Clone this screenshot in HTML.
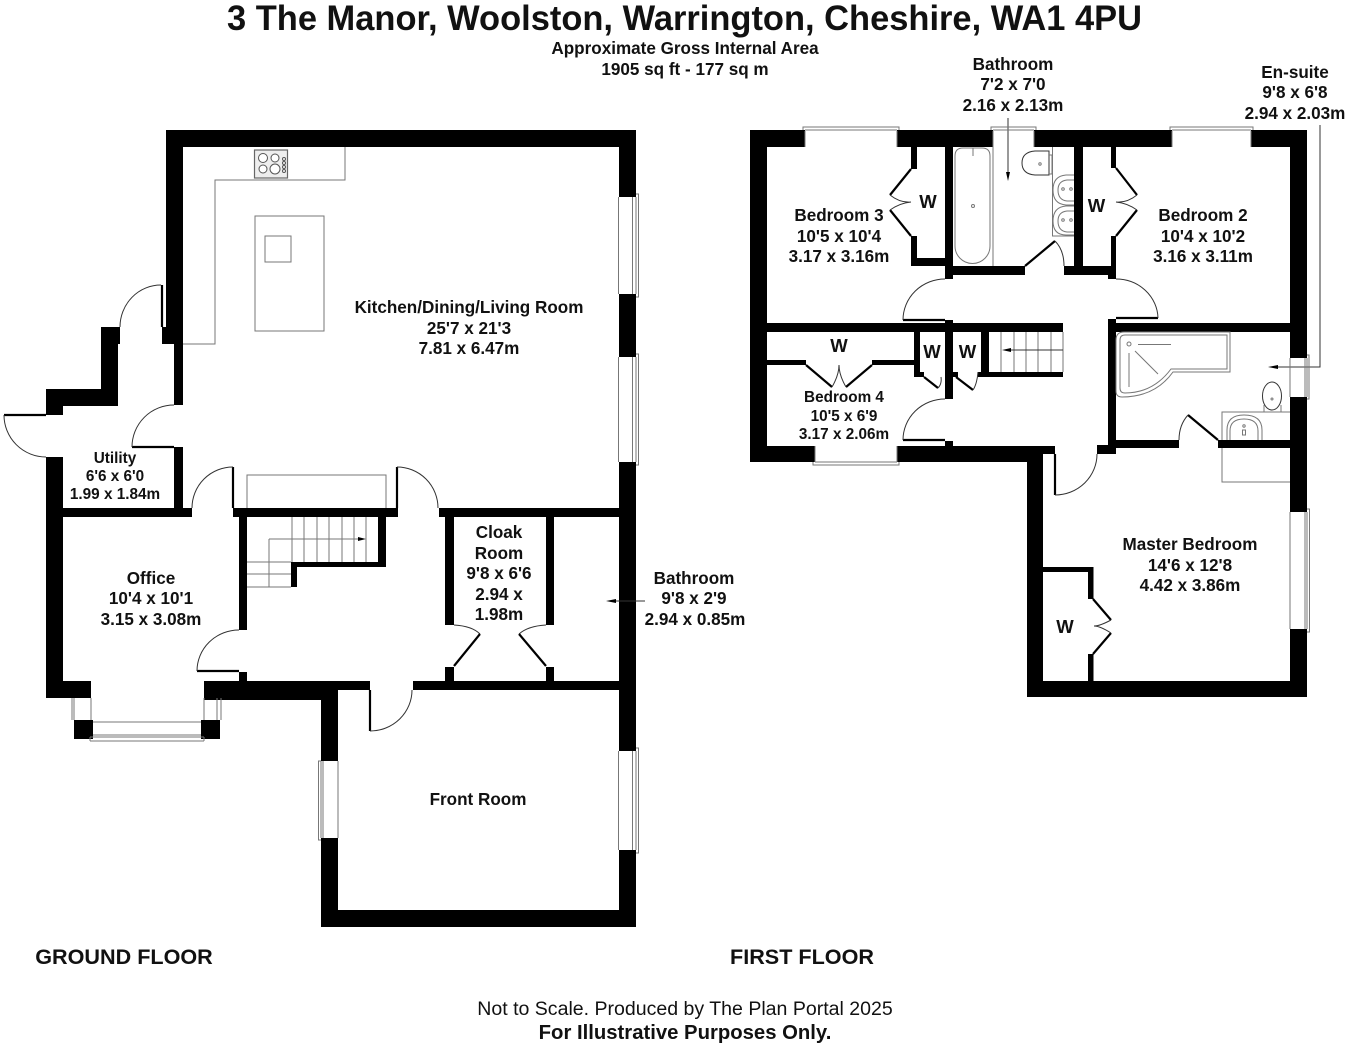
<!DOCTYPE html>
<html><head><meta charset="utf-8"><title>3 The Manor floor plan</title>
<style>
html,body{margin:0;padding:0;background:#fff}
svg{display:block}
text{font-family:"Liberation Sans",Arial,sans-serif;font-weight:bold;text-anchor:middle;fill:#111}
.f16{font-size:17.1px}.f14{font-size:15.3px}.w{font-size:18.5px}
.g{fill:none;stroke:#777;stroke-width:1}
.a{fill:none;stroke:#333;stroke-width:1}
.t{fill:none;stroke:#000;stroke-width:2.2}
</style></head><body>
<svg width="1352" height="1048" viewBox="0 0 1352 1048" xmlns="http://www.w3.org/2000/svg">
<rect width="1352" height="1048" fill="#fff"/>

<!-- GROUND walls -->
<g fill="#000">
<rect x="166" y="130" width="470" height="17"/>
<rect x="166" y="130" width="17" height="214"/>
<rect x="174" y="344" width="9" height="61"/>
<rect x="162" y="327" width="5" height="17"/>
<rect x="101" y="327" width="19" height="17"/>
<rect x="101" y="327" width="17" height="79"/>
<rect x="46" y="389" width="72" height="17"/>
<rect x="46" y="389" width="17" height="26"/>
<rect x="46" y="457" width="17" height="241"/>
<rect x="174" y="447" width="9" height="61"/>
<rect x="46" y="508" width="146" height="9"/>
<rect x="233" y="508" width="165" height="9"/>
<rect x="439" y="508" width="197" height="9"/>
<rect x="239" y="517" width="8" height="113"/>
<rect x="239" y="672" width="8" height="10"/>
<rect x="378" y="517" width="8" height="49"/>
<rect x="291" y="562" width="95" height="5"/>
<rect x="291" y="562" width="6" height="25"/>
<rect x="445" y="517" width="9" height="108"/>
<rect x="546" y="517" width="8" height="108"/>
<rect x="445" y="667" width="9" height="15"/>
<rect x="546" y="667" width="8" height="15"/>
<rect x="46" y="681" width="45" height="17"/>
<rect x="204" y="681" width="166" height="9"/>
<rect x="204" y="681" width="117" height="19"/>
<rect x="413" y="681" width="223" height="9"/>
<rect x="74" y="720" width="19" height="19"/>
<rect x="201" y="720" width="19" height="19"/>
<rect x="321" y="690" width="17" height="71"/>
<rect x="321" y="838" width="17" height="89"/>
<rect x="321" y="910" width="315" height="17"/>
<rect x="619" y="130" width="17" height="67"/>
<rect x="619" y="294" width="17" height="63"/>
<rect x="619" y="462" width="17" height="289"/>
<rect x="619" y="850" width="17" height="77"/>
</g>
<!-- ground doors -->
<path class="t" d="M162 285V327M4 415H46M132 447H174M233 467V508M397 467V508M197 671H239M370 690V731" stroke-width="1.6"/>
<path class="a" d="M161 285A41 42 0 0 0 120 327M4 415A42 42 0 0 0 46 457M132 447A42 42 0 0 1 174 405M192 508A41 41 0 0 1 233 467M397 467A41 41 0 0 1 438 508M197 671A42 41 0 0 1 239 630M370 731A42 41 0 0 0 412 690M454 625Q472 626 480 634M546 625Q528 626 519 634"/>
<path class="t" d="M454 666L480 634M546 666L519 634"/>
<!-- ground fixtures -->
<path class="g" d="M183 344H215V180H345V147M247 508V475H386V508"/>
<rect class="g" x="255" y="216" width="69" height="115"/>
<rect class="g" x="265" y="236" width="26" height="26"/>
<rect x="254.500" y="150" width="33" height="28" fill="#eee" stroke="#666" stroke-width="1.2"/>
<g fill="#fff" stroke="#555" stroke-width="1">
<circle cx="263" cy="158" r="4.500"/><circle cx="275" cy="158" r="4"/><circle cx="263" cy="169" r="4"/><circle cx="275" cy="169" r="5"/>
<circle cx="284" cy="159" r="1.500"/><circle cx="284" cy="163" r="1.500"/><circle cx="284" cy="167" r="1.500"/><circle cx="284" cy="171" r="1.500"/>
</g>
<!-- stairs ground -->
<path class="g" d="M292 517V562M304 517V562M317 517V562M329 517V562M342 517V562M354 517V562M366 517V562M247 562H291M247 574H291M247 587H291M269 562V587M269 539V562M269 539H360"/>
<path d="M358 537L366 539L358 541Z" fill="#000"/>
<!-- ground windows -->
<path class="g" d="M618.500 197V294M632.500 197V294M636 194H638.500V297H636M636 197V294"/>
<path class="g" d="M618.500 357V462M632.500 357V462M636 354H638.500V465H636M636 357V462"/>
<path class="g" d="M618.500 751V850M632.500 751V850M636 748H638.500V853H636M636 751V850"/>
<path class="g" d="M338 761V838M321 761V838M321 761H318.500V840H321M323 761V838"/>
<path class="g" d="M91 698V720M74 698V720M72 698V720M204 698V720M217 698V720M221 698V720M93 722H201M93 735H201M90 737H204M90 741H204M90 737V741M204 737V741"/>
<!-- arrow bathroom -->
<path class="a" d="M645 601H610"/><path d="M616 599L606 601L616 603Z" fill="#000"/>

<!-- FIRST walls -->
<g fill="#000">
<rect x="750" y="130" width="55" height="17"/>
<rect x="897" y="130" width="96" height="17"/>
<rect x="1034" y="130" width="138" height="17"/>
<rect x="1251" y="130" width="56" height="17"/>
<rect x="750" y="130" width="17" height="332"/>
<rect x="1290" y="130" width="17" height="228"/>
<rect x="1290" y="397" width="17" height="115"/>
<rect x="1290" y="629" width="17" height="68"/>
<rect x="911" y="147" width="6" height="22"/>
<rect x="911" y="236" width="6" height="30"/>
<rect x="911" y="258" width="34" height="8"/>
<rect x="945" y="147" width="8" height="132"/>
<rect x="945" y="266" width="80" height="9"/>
<rect x="1064" y="266" width="52" height="9"/>
<rect x="1074" y="147" width="9" height="119"/>
<rect x="1111" y="147" width="5" height="21"/>
<rect x="1111" y="236" width="5" height="30"/>
<rect x="1108" y="266" width="8" height="13"/>
<rect x="767" y="323" width="296" height="9"/>
<rect x="945" y="320" width="8" height="79"/>
<rect x="945" y="441" width="8" height="6"/>
<rect x="767" y="360" width="39" height="5"/>
<rect x="872" y="360" width="42" height="5"/>
<rect x="914" y="332" width="6" height="45"/>
<rect x="914" y="372" width="10" height="5"/>
<rect x="953" y="372" width="5" height="5"/>
<rect x="981" y="332" width="8" height="45"/>
<rect x="978" y="372" width="85" height="5"/>
<rect x="1108" y="319" width="8" height="135"/>
<rect x="1116" y="323" width="174" height="9"/>
<rect x="750" y="446" width="65" height="16"/>
<rect x="897" y="446" width="158" height="8"/>
<rect x="897" y="454" width="131" height="8"/>
<rect x="1097" y="445" width="19" height="9"/>
<rect x="1027" y="454" width="16" height="243"/>
<rect x="1116" y="440" width="63" height="8"/>
<rect x="1218" y="440" width="72" height="8"/>
<rect x="1027" y="681" width="280" height="16"/>
<rect x="1043" y="567" width="50" height="5"/>
<rect x="1088" y="567" width="5.500" height="32"/>
<rect x="1088" y="654" width="5.500" height="27"/>
</g>
<!-- first doors -->
<path class="t" d="M911 169L890 195M890 210L911 236M1116 168L1137 195M1137 210L1116 236M1025 266L1055 241M806 365L832 387M872 365L846 387M924 377L938 388M956 377L973 390M1218 440L1188 415M1093 599L1111 620M1111 633L1093 654"/>
<path class="t" stroke-width="1.6" d="M903 320H945M1116 318H1158M903 440H945M1055 454V495"/>
<path class="a" d="M890 195Q900 203 911 202Q900 203 890 210M1137 195Q1127 203 1116 202Q1127 203 1137 210M1055 241Q1064 250 1064 266M903 320A42 41 0 0 1 945 279M1116 279A42 40 0 0 1 1158 318M903 440A42 41 0 0 1 945 399M1055 495A42 41 0 0 0 1097 454M832 387Q839 375 839 365Q839 375 846 387M938 388Q942 384 941 377M973 390Q977 384 978 372M1188 415Q1179 425 1179 440M1111 620Q1100 626 1094 626Q1100 626 1111 633"/>
<!-- first fixtures: family bathroom -->
<path class="g" d="M993 147V266M1052.500 147V236H1074"/>
<path class="g" d="M963 148H982Q990 148 990 156V246A17 17 0 0 1 955 246V156Q955 148 963 148Z"/>
<circle class="g" cx="973" cy="206" r="1.500"/>
<path class="g" d="M973 148V156"/>
<path fill="#fff" stroke="#333" stroke-width="1" d="M1049 151H1035Q1022 152 1022 163Q1022 174 1035 175H1049Z"/>
<path class="g" d="M1049 155H1052V174H1049"/>
<circle class="g" cx="1040" cy="164" r="1.200"/>
<path class="g" d="M1074 175H1066Q1053 176 1053 190Q1053 204 1066 205H1074M1074 180H1067Q1058 181 1058 190Q1058 200 1067 201H1074M1074 206H1066Q1053 207 1053 221Q1053 235 1066 235H1074M1074 211H1067Q1058 212 1058 221Q1058 231 1067 232H1074"/>
<circle class="g" cx="1063" cy="189" r="1.300"/><circle class="g" cx="1071" cy="189" r="1.300"/><circle class="g" cx="1063" cy="220" r="1.300"/><circle class="g" cx="1071" cy="220" r="1.300"/>
<path class="a" d="M1008 118V172"/><path d="M1006 172L1008 181L1010 172Z" fill="#000"/>
<!-- stairs first -->
<path class="g" d="M1001 332V372M1014 332V372M1026 332V372M1038 332V372M1051 332V372M1063 332V372"/>
<path class="a" d="M1010 350H1063"/><path d="M1011 348L1002 350L1011 352Z" fill="#000"/>
<!-- ensuite -->
<path class="g" d="M1124 332H1230V372H1173Q1155 397 1122 397Q1116 397 1116 391V340Q1116 332 1124 332Z"/>
<path class="g" d="M1125 335H1227V369H1171Q1153 393 1125 393Q1120 393 1120 388V340Q1120 335 1125 335Z"/>
<circle class="g" cx="1129" cy="344" r="2"/>
<path class="g" d="M1138 344.500H1171M1135 351L1158 374M1129 353V387"/>
<ellipse cx="1272" cy="396" rx="9.500" ry="14" fill="#fff" stroke="#333" stroke-width="1"/>
<path class="g" d="M1264 405V412M1281 405V412"/>
<circle class="g" cx="1272" cy="399" r="1"/>
<path class="g" d="M1222 440V412H1290M1222 448V482H1290"/>
<path class="g" d="M1227 440V430Q1227 415 1244 415Q1262 415 1262 430V440M1230 440V431Q1230 419 1244 419Q1258 419 1258 431V440"/>
<circle cx="1244" cy="426" r="1.200" class="g"/><rect x="1242.500" y="430" width="3" height="5" class="g"/>
<path class="a" d="M1320 125V367H1276"/><path d="M1278 365L1268 367L1278 369Z" fill="#000"/>
<!-- first windows -->
<path class="g" d="M805 131V147M897 131V147M803 130V127H899V130M805 130H897"/>
<path class="g" d="M993 131V147M1034 131V147M991 130V127H1036V130M993 130H1034"/>
<path class="g" d="M1172 131V147M1251 131V147M1170 130V127H1253V130M1172 130H1251"/>
<path class="g" d="M815 446V462M897 446V462M813 462V465H899V462M815 462H897"/>
<path class="g" d="M1290 358V397M1305 358V397M1307 355H1309V399H1307M1307 358V397"/>
<path class="g" d="M1290 512V629M1305 512V629M1307 509H1309.500V632H1307M1307 512V629"/>

<!-- Labels -->
<text x="684.500" y="30" font-size="35" textLength="915" lengthAdjust="spacingAndGlyphs">3 The Manor, Woolston, Warrington, Cheshire, WA1 4PU</text>
<text class="f16" x="685" y="54">Approximate Gross Internal Area</text>
<text class="f16" x="685" y="75">1905 sq ft - 177 sq m</text>
<text class="f16" x="469" y="313">Kitchen/Dining/Living Room</text>
<text class="f16" x="469" y="334">25'7 x 21'3</text>
<text class="f16" x="469" y="354">7.81 x 6.47m</text>
<text class="f14" x="115" y="463">Utility</text>
<text class="f14" x="115" y="481">6'6 x 6'0</text>
<text class="f14" x="115" y="499">1.99 x 1.84m</text>
<text class="f16" x="151" y="584">Office</text>
<text class="f16" x="151" y="604">10'4 x 10'1</text>
<text class="f16" x="151" y="625">3.15 x 3.08m</text>
<text class="f16" x="499" y="538">Cloak</text>
<text class="f16" x="499" y="559">Room</text>
<text class="f16" x="499" y="579">9'8 x 6'6</text>
<text class="f16" x="499" y="600">2.94 x</text>
<text class="f16" x="499" y="620">1.98m</text>
<text class="f16" x="694" y="584">Bathroom</text>
<text class="f16" x="694" y="604">9'8 x 2'9</text>
<text class="f16" x="695" y="625">2.94 x 0.85m</text>
<text class="f16" x="478" y="805">Front Room</text>
<text x="124" y="964" font-size="21.600">GROUND FLOOR</text>
<text x="802" y="964" font-size="21.600">FIRST FLOOR</text>
<text x="685" y="1015" font-size="19.550" style="font-weight:normal">Not to Scale. Produced by The Plan Portal 2025</text>
<text x="685" y="1039" font-size="20.300">For Illustrative Purposes Only.</text>
<text class="f16" x="1013" y="70">Bathroom</text>
<text class="f16" x="1013" y="90">7'2 x 7'0</text>
<text class="f16" x="1013" y="111">2.16 x 2.13m</text>
<text class="f16" x="1295" y="78">En-suite</text>
<text class="f16" x="1295" y="98">9'8 x 6'8</text>
<text class="f16" x="1295" y="119">2.94 x 2.03m</text>
<text class="f16" x="839" y="221">Bedroom 3</text>
<text class="f16" x="839" y="242">10'5 x 10'4</text>
<text class="f16" x="839" y="262">3.17 x 3.16m</text>
<text class="f16" x="1203" y="221">Bedroom 2</text>
<text class="f16" x="1203" y="242">10'4 x 10'2</text>
<text class="f16" x="1203" y="262">3.16 x 3.11m</text>
<text class="f14" x="844" y="402">Bedroom 4</text>
<text class="f14" x="844" y="421">10'5 x 6'9</text>
<text class="f14" x="844" y="439">3.17 x 2.06m</text>
<text class="f16" x="1190" y="550">Master Bedroom</text>
<text class="f16" x="1190" y="571">14'6 x 12'8</text>
<text class="f16" x="1190" y="591">4.42 x 3.86m</text>
<text class="w" x="928" y="208">W</text>
<text class="w" x="1096.500" y="212">W</text>
<text class="w" x="839" y="352">W</text>
<text class="w" x="932" y="358">W</text>
<text class="w" x="967.500" y="358">W</text>
<text class="w" x="1065" y="633">W</text>
</svg>
</body></html>
